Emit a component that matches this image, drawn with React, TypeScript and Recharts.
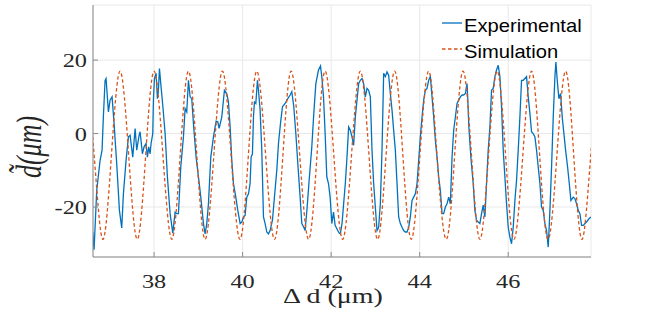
import React from 'react';
import { LineChart, Line, XAxis, YAxis, CartesianGrid, Legend } from 'recharts';

const expX = [
  36.614, 36.644, 36.704, 36.78, 36.825, 36.854, 36.893, 36.915, 36.968, 37.006, 37.051, 37.096, 37.156, 37.217, 37.269,
  37.307, 37.367, 37.42, 37.458, 37.518, 37.571, 37.608, 37.661, 37.684, 37.736, 37.774, 37.819, 37.849, 37.879, 37.91,
  37.932, 37.97, 37.985, 38.008, 38.045, 38.075, 38.098, 38.121, 38.151, 38.196, 38.249, 38.301, 38.362, 38.422, 38.475,
  38.512, 38.55, 38.603, 38.663, 38.701, 38.738, 38.776, 38.814, 38.851, 38.889, 38.949, 39.002, 39.055, 39.115, 39.153,
  39.19, 39.228, 39.281, 39.341, 39.401, 39.439, 39.469, 39.529, 39.589, 39.642, 39.68, 39.718, 39.755, 39.793, 39.846,
  39.891, 39.944, 39.981, 40.019, 40.056, 40.094, 40.132, 40.169, 40.192, 40.222, 40.245, 40.267, 40.298, 40.335, 40.358,
  40.395, 40.433, 40.471, 40.508, 40.546, 40.584, 40.621, 40.674, 40.719, 40.772, 40.81, 40.855, 40.9, 40.96, 41.021,
  41.073, 41.111, 41.156, 41.202, 41.247, 41.299, 41.337, 41.382, 41.412, 41.458, 41.503, 41.563, 41.608, 41.654, 41.714,
  41.759, 41.789, 41.827, 41.864, 41.902, 41.94, 41.977, 42.015, 42.053, 42.09, 42.128, 42.181, 42.207, 42.245, 42.282,
  42.32, 42.358, 42.395, 42.433, 42.471, 42.508, 42.546, 42.584, 42.621, 42.659, 42.697, 42.734, 42.772, 42.81, 42.847,
  42.885, 42.923, 42.96, 42.998, 43.036, 43.073, 43.111, 43.149, 43.186, 43.224, 43.262, 43.299, 43.337, 43.375, 43.412,
  43.45, 43.488, 43.525, 43.563, 43.601, 43.638, 43.676, 43.714, 43.751, 43.789, 43.827, 43.864, 43.902, 43.94, 43.977,
  44.015, 44.053, 44.09, 44.128, 44.166, 44.203, 44.241, 44.279, 44.316, 44.354, 44.392, 44.429, 44.467, 44.505, 44.542,
  44.58, 44.618, 44.655, 44.693, 44.731, 44.768, 44.806, 44.844, 44.881, 44.919, 44.957, 44.994, 45.032, 45.07, 45.081,
  45.111, 45.156, 45.209, 45.247, 45.284, 45.322, 45.36, 45.397, 45.435, 45.473, 45.51, 45.548, 45.586, 45.623, 45.661,
  45.699, 45.736, 45.774, 45.812, 45.849, 45.887, 45.925, 45.962, 46.0, 46.038, 46.075, 46.113, 46.151, 46.188, 46.226,
  46.264, 46.301, 46.339, 46.377, 46.414, 46.452, 46.49, 46.527, 46.565, 46.603, 46.64, 46.678, 46.716, 46.753, 46.791,
  46.829, 46.866, 46.904, 46.942, 46.979, 47.017, 47.055, 47.077, 47.107, 47.145, 47.183, 47.22, 47.258, 47.296, 47.341,
  47.379, 47.416, 47.469, 47.507, 47.544, 47.582, 47.62, 47.657, 47.695, 47.733, 47.77, 47.823, 47.868,
];

const expY = [
  -26.8, -31.6, -15.5, -7.3, -4.5, 4.5, 14.5, 15.0, 5.9, 9.1, 10.0, 2.7, -8.2, -20.9, -25.7,
  -16.4, -7.3, -0.9, -0.5, -6.4, 1.4, -4.5, -0.5, 0.5, -5.5, -3.6, -2.7, -6.4, -3.6, -5.5,
  -2.7, 0, 9.1, 15.0, 16.4, 9.5, 11.8, 17.7, 13.6, 7.7, 0, -11.8, -21.8, -27.1, -21.4,
  -21.8, -21.8, -9.1, -0.9, 6.8, 5.9, 14.5, 10.0, 9.5, 2.7, -6.4, -11.8, -17.3, -24.5, -27.3,
  -24.5, -19.1, -6.4, -0.9, 3.4, 3.2, 1.4, 4.5, 11.8, 10.9, 8.6, 1.8, -7.3, -13.6, -17.3,
  -20.9, -24.5, -24.1, -22.7, -22.3, -17.3, -16.4, -13.6, -6.4, -5.5, 4.5, 8.6, 8.2, 14.5, 11.8,
  6.4, -4.5, -22.7, -24.5, -26.8, -27.3, -26.4, -23.6, -17.3, -10.0, -2.7, 2.7, 7.3, 8.2, 9.5,
  10.5, 11.4, 7.3, 0, -8.2, -17.3, -24.5, -25.5, -26.4, -20.0, -12.7, -3.6, 5.5, 13.6, 17.3,
  18.4, 15.5, 10.0, 0, -11.8, -13.6, -17.3, -24.5, -21.4, -25.0, -25.9, -27.1, -27.3, -24.5, -19.1,
  -13.6, -6.4, 1.8, 0.9, -0.9, -3.2, 4.5, 9.1, 13.6, 14.5, 15.0, 13.6, 10.0, 12.3, 11.8,
  10.0, -4.5, -13.6, -20.0, -26.4, -25.5, -19.1, -4.5, 16.4, 15.5, 16.8, 15.9, 10.9, 6.4, 0.9,
  -4.5, -13.6, -22.7, -24.5, -25.5, -26.4, -26.8, -26.8, -25.5, -22.7, -18.2, -17.3, -16.4, -13.6, -7.3,
  -0.9, 4.5, 9.1, 11.8, 12.3, 14.5, 15.5, 10.0, 4.5, -1.8, -6.4, -11.8, -15.5, -21.8, -21.8,
  -20.0, -19.1, -17.3, -19.1, -6.4, 0.9, 4.5, 8.2, 9.1, 10.0, 10.5, 10.5, 10.9, 13.6, 10.9,
  1.8, -6.4, -13.6, -20.9, -23.6, -24.1, -24.5, -21.8, -19.5, -22.7, -13.6, -4.5, 1.8, 11.8, 12.3,
  15.5, 17.3, 18.6, 15.5, 7.3, -4.5, -11.8, -19.1, -25.5, -28.2, -30.0, -25.5, -18.2, -12.7, -4.5,
  4.5, 14.5, 14.5, 15.0, 15.5, 10.0, 5.5, 0.5, 0, -0.9, -4.5, -9.1, -13.6, -20.0, -20.9,
  -24.5, -26.4, -30.9, -20.9, -9.1, 4.5, 15.5, 19.5, 14.5, 9.5, 10.9, 4.5, 0, -4.5, -9.1,
  -13.6, -18.2, -17.3, -17.7, -19.1, -20.9, -21.8, -25.0, -25.0, -24.5, -24.1, -23.2, -22.7,
];

const simX = [
  36.452, 36.646, 36.84, 37.036, 37.232, 37.426, 37.62, 37.81, 38.0, 38.2, 38.4, 38.59, 38.776, 38.965, 39.153,
  39.35, 39.544, 39.74, 39.94, 40.13, 40.32, 40.52, 40.72, 40.91, 41.096, 41.29, 41.49, 41.68, 41.864, 42.06,
  42.26, 42.46, 42.659, 42.855, 43.05, 43.24, 43.435, 43.62, 43.81, 44.005, 44.203, 44.39, 44.6, 44.79, 44.98,
  45.17, 45.36, 45.555, 45.75, 45.94, 46.13, 46.33, 46.527, 46.71, 46.9, 47.1, 47.296, 47.48, 47.67, 47.865, 48.06,
];

const simY = [
  17, -5.9, -28.8, -5.9, 17, -5.9, -28.8, -5.9, 17, -5.9, -28.8, -5.9, 17, -5.9, -28.8,
  -5.9, 17, -5.9, -28.8, -5.9, 17, -5.9, -28.8, -5.9, 17, -5.9, -28.8, -5.9, 17, -5.9,
  -28.8, -5.9, 17, -5.9, -28.8, -5.9, 17, -5.9, -28.8, -5.9, 17, -5.9, -28.8, -5.9, 17,
  -5.9, -28.8, -5.9, 17, -5.9, -28.8, -5.9, 17, -5.9, -28.8, -5.9, 17, -5.9, -28.8, -5.9, 17,
];

const xTicks = [38, 40, 42, 44, 46];
const yTicks = [-20, 0, 20];
const xDomain: [number, number] = [36.62, 47.87];
const yDomain: [number, number] = [-33.6, 35];
const seriesNames = ['Experimental', 'Simulation'];
const xLabel = 'Δ d (μm)';
const yLabel = 'd\u0303(μm)';

const expData = expX.map((x, i) => ({ x, y: expY[i] }));
const simData = simX.map((x, i) => ({ x, y: simY[i] }));

const SERIF = '"Liberation Serif", "Times New Roman", serif';
const SANS = '"Liberation Sans", Arial, sans-serif';
const AXIS = '#8a8a8a';
const TEXT = '#262626';
const BLUE = '#0072BD';
const ORANGE = '#D95319';
const SX = 1.35;

const BottomTick = (props: any) => {
  const { x, y, payload } = props;
  return (
    <g>
      <line x1={x} y1={y} x2={x} y2={y - 5} stroke={AXIS} strokeWidth={1} />
      <text
        transform={`translate(${x},${y + 30.5}) scale(${SX},1)`}
        textAnchor="middle"
        fontFamily={SERIF}
        fontSize={18}
        fill={TEXT}
      >
        {payload.value}
      </text>
    </g>
  );
};

const TopTick = (props: any) => {
  const { x, y } = props;
  return <line x1={x} y1={y} x2={x} y2={y + 5} stroke={AXIS} strokeWidth={1} />;
};

const LeftTick = (props: any) => {
  const { x, y, payload } = props;
  return (
    <g>
      <line x1={x} y1={y} x2={x + 5} y2={y} stroke={AXIS} strokeWidth={1} />
      <text
        transform={`translate(${x - 6},${y + 7}) scale(${SX},1)`}
        textAnchor="end"
        fontFamily={SERIF}
        fontSize={18}
        fill={TEXT}
      >
        {payload.value}
      </text>
    </g>
  );
};

const RightTick = (props: any) => {
  const { x, y } = props;
  return <line x1={x} y1={y} x2={x - 5} y2={y} stroke={AXIS} strokeWidth={1} />;
};

const XLabel = (props: any) => {
  const vb = props.viewBox || { x: 93, y: 257, width: 498, height: 58 };
  const cx = vb.x + vb.width / 2 - 9;
  return (
    <text
      transform={`translate(${cx},${vb.y + 46}) scale(${SX + 0.05},1)`}
      textAnchor="middle"
      fontFamily={SERIF}
      fontSize={20}
      fill={TEXT}
    >
      {xLabel}
    </text>
  );
};

const YLabel = (props: any) => {
  const vb = props.viewBox || { x: 0, y: 5, width: 93, height: 252 };
  const cy = vb.y + vb.height / 2 + 16;
  return (
    <text
      transform={`translate(${vb.x + 41},${cy}) scale(${SX},1) rotate(-90)`}
      textAnchor="middle"
      fontFamily={SERIF}
      fontStyle="italic"
      fontSize={26}
      fill={TEXT}
    >
      {yLabel}
    </text>
  );
};

const LegendContent = (props: any) => {
  const payload = props.payload || [];
  const rows = [
    { name: seriesNames[0], color: BLUE, dash: undefined as string | undefined },
    { name: seriesNames[1], color: ORANGE, dash: '3.5 2.5' },
  ];
  return (
    <svg width={654} height={70} style={{ display: 'block', overflow: 'visible' }}>
      {rows.map((r, i) => {
        const p = payload[i];
        const color = (p && p.color) || r.color;
        const ly = 23 + i * 26;
        return (
          <g key={r.name}>
            <line x1={442} y1={ly} x2={462} y2={ly} stroke={color} strokeWidth={1.3} strokeDasharray={r.dash} />
            <text
              transform={`translate(464,${ly + 8.5}) scale(1.12,1)`}
              fontFamily={SANS}
              fontSize={18}
              fill="#000"
            >
              {(p && p.value) || r.name}
            </text>
          </g>
        );
      })}
    </svg>
  );
};

export default function App() {
  return (
    <div style={{ position: 'absolute', left: 0, top: 0, width: 654, height: 315, background: '#fff' }}>
      <LineChart width={654} height={315} margin={{ top: 5, right: 63, bottom: 0, left: 0 }}>
        <CartesianGrid stroke="#e8e8e8" strokeWidth={1} />
        <XAxis
          dataKey="x"
          type="number"
          domain={xDomain}
          allowDataOverflow
          ticks={xTicks}
          height={58}
          tickSize={0}
          tickMargin={0}
          tickLine={false}
          tick={<BottomTick />}
          axisLine={{ stroke: AXIS, strokeWidth: 1 }}
          label={<XLabel />}
          interval={0}
        />
        <XAxis
          xAxisId="top"
          orientation="top"
          dataKey="x"
          type="number"
          domain={xDomain}
          allowDataOverflow
          ticks={xTicks}
          height={0}
          tickSize={0}
          tickMargin={0}
          tickLine={false}
          tick={<TopTick />}
          axisLine={{ stroke: AXIS, strokeWidth: 1 }}
          interval={0}
        />
        <YAxis
          type="number"
          domain={yDomain}
          allowDataOverflow
          ticks={yTicks}
          width={93}
          tickSize={0}
          tickMargin={0}
          tickLine={false}
          tick={<LeftTick />}
          axisLine={{ stroke: AXIS, strokeWidth: 1 }}
          label={<YLabel />}
          interval={0}
        />
        <YAxis
          yAxisId="right"
          orientation="right"
          type="number"
          domain={yDomain}
          allowDataOverflow
          ticks={yTicks}
          width={0}
          tickSize={0}
          tickMargin={0}
          tickLine={false}
          tick={<RightTick />}
          axisLine={{ stroke: AXIS, strokeWidth: 1 }}
          interval={0}
        />
        <Legend
          layout="horizontal"
          verticalAlign="middle"
          align="center"
          content={<LegendContent />}
          wrapperStyle={{ position: 'absolute', left: 0, top: 0, width: 654, height: 70 }}
        />
        <Line
          data={expData}
          dataKey="y"
          name={seriesNames[0]}
          type="linear"
          stroke={BLUE}
          strokeWidth={1.3}
          dot={false}
          activeDot={false}
          isAnimationActive={false}
        />
        <Line
          data={simData}
          dataKey="y"
          name={seriesNames[1]}
          type="natural"
          stroke={ORANGE}
          strokeWidth={1.3}
          strokeDasharray="3.5 2.5"
          dot={false}
          activeDot={false}
          isAnimationActive={false}
        />
      </LineChart>
    </div>
  );
}
